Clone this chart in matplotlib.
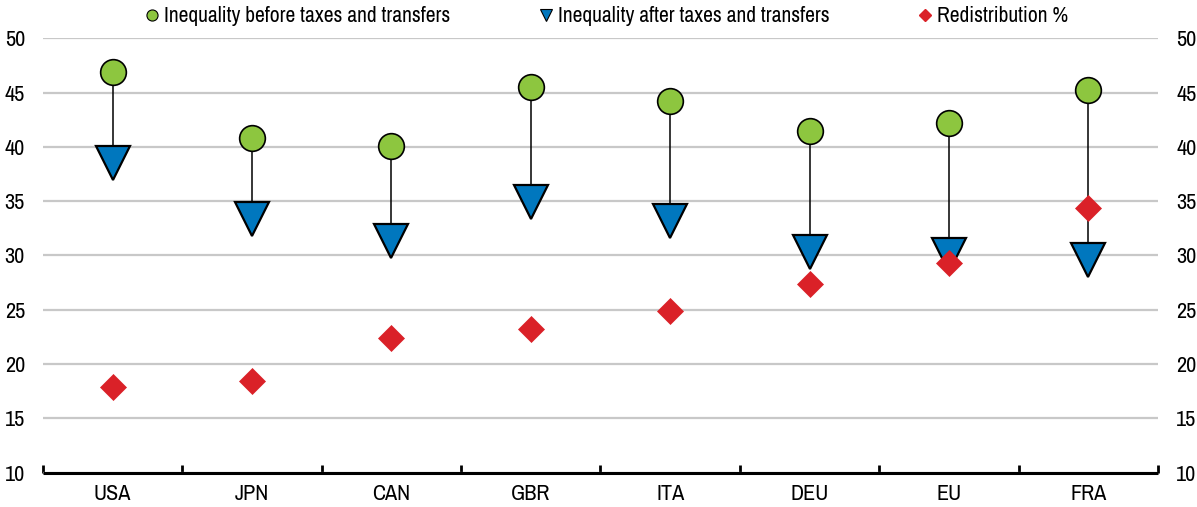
import numpy as np
import matplotlib.pyplot as plt
from matplotlib.lines import Line2D

plt.rcParams['font.family'] = ['Archivo Narrow', 'Liberation Sans', 'DejaVu Sans']

## Data (Gini, %)
countries = ["USA", "JPN", "CAN", "GBR", "ITA", "DEU", "EU", "FRA"]
before_tax = [46.9, 40.8, 40.1, 45.5, 44.2, 41.5, 42.2, 45.2]
after_tax = [38.5, 33.4, 31.3, 34.9, 33.2, 30.3, 30.0, 29.6]
redistribution = [17.85, 18.4, 22.4, 23.25, 24.9, 27.4, 29.3, 34.4]

green = '#8DC63F'
blue = '#0077BE'
red = '#DA2128'

fig = plt.figure(figsize=(11.97, 5.07), dpi=100)
ax = fig.add_axes([0.0359, 0.0679, 0.9315, 0.8566])

x = np.arange(len(countries))

# connecting lines before -> after
ax.vlines(x, after_tax, before_tax, color='black', lw=1.1, zorder=2)

ax.plot(x, before_tax, 'o', ms=18.5, mfc=green, mec='black', mew=1.2, ls='none', zorder=3)
ax.plot(x, after_tax, 'v', ms=24, mfc=blue, mec='black', mew=1.6, ls='none', zorder=4)
ax.plot(x, redistribution, 'D', ms=13.5, mfc=red, mec=red, mew=0.5, ls='none', zorder=5)

ax.set_xlim(-0.5, len(countries) - 0.5)
ax.set_ylim(10, 50)
ax.set_yticks(np.arange(10, 51, 5))
ax.yaxis.grid(True, color='#C8C8C8', lw=1.6)
ax.set_axisbelow(True)

for s in ['top', 'left', 'right']:
    ax.spines[s].set_visible(False)
ax.spines['bottom'].set_linewidth(2.2)
ax.spines['bottom'].set_color('black')
ax.spines['bottom'].set_capstyle('butt')

# category labels and separator ticks
ax.set_xticks(x)
ax.set_xticklabels(countries, fontsize=16)
ax.tick_params(axis='x', length=0, pad=8)
ax.set_xticks(np.arange(-0.5, len(countries)), minor=True)
ax.tick_params(axis='x', which='minor', direction='in', length=6, width=2)

# y labels on both sides, no tick marks
ax.tick_params(axis='y', length=0, labelsize=16, pad=13, labelright=True)

handles = [
    Line2D([], [], marker='o', ls='none', ms=8, mfc=green, mec='black', mew=0.8),
    Line2D([], [], marker='v', ms=8.5, ls='none', mfc=blue, mec='black', mew=0.8),
    Line2D([], [], marker='D', ms=6, ls='none', mfc=red, mec=red),
]
labels = ["Inequality before taxes and transfers",
          "Inequality after taxes and transfers",
          "Redistribution %"]
fig.legend(handles, labels, loc='upper center', bbox_to_anchor=(0.507, 1.026), ncol=3,
           frameon=False, fontsize=15.5, handlelength=0.6, handletextpad=0.25,
           columnspacing=4.15)

fig.savefig('out.png', dpi=100)
